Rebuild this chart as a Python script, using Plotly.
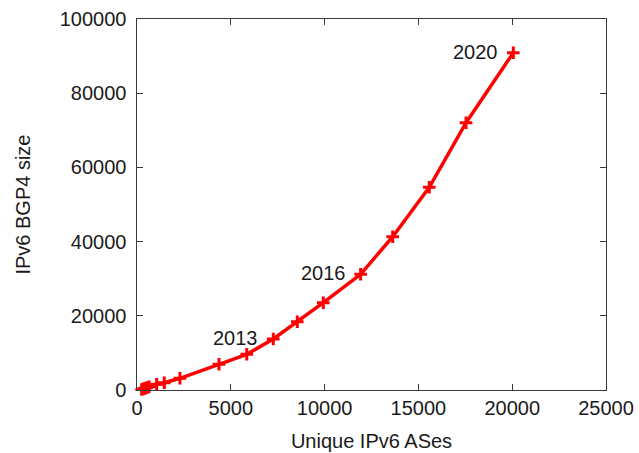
import plotly.graph_objects as go

# Yearly snapshots of the IPv6 routing table, 2003-2020
years = list(range(2003, 2021))
unique_ases = [250, 330, 420, 520, 640, 1050, 1455, 2290, 4370, 5850,
               7265, 8545, 9930, 11920, 13630, 15580, 17540, 20060]
bgp4_size = [150, 300, 450, 650, 850, 1530, 1970, 3150, 6930, 9620,
             13750, 18410, 23530, 31190, 41320, 54640, 72050, 90900]
labelled_years = [2013, 2016, 2020]

x_ticks = [0, 5000, 10000, 15000, 20000, 25000]
y_ticks = [0, 20000, 40000, 60000, 80000, 100000]

font = dict(family="Liberation Sans, Arial, sans-serif", size=20, color="#1a1a1a")

fig = go.Figure()
fig.add_trace(go.Scatter(
    x=unique_ases, y=bgp4_size, mode="lines+markers",
    line=dict(color="#ff0000", width=3.5),
    marker=dict(symbol="cross-thin", size=9, color="#ff0000",
                line=dict(color="#ff0000", width=3)),
    showlegend=False, cliponaxis=False,
))

for yr in labelled_years:
    i = years.index(yr)
    fig.add_annotation(x=unique_ases[i], y=bgp4_size[i], text=str(yr),
                       showarrow=False, xanchor="right", yanchor="middle",
                       xshift=-13, yshift=1, font=font)

# y-axis title placed as a rotated annotation so its position is fixed
fig.add_annotation(xref="paper", yref="paper", x=-0.245, y=0.5,
                   text="IPv6 BGP4 size", textangle=-90, showarrow=False,
                   xanchor="center", yanchor="middle", font=font)

axis_common = dict(
    showgrid=False, zeroline=False, showline=True, linecolor="#3a3a3a",
    linewidth=1, mirror="allticks", ticks="inside", ticklen=6,
    tickcolor="#3a3a3a", tickfont=font, automargin=False,
)

fig.update_xaxes(range=[0, 25000], tickvals=x_ticks,
                 ticktext=[str(v) for v in x_ticks],
                 title=dict(text="Unique IPv6 ASes", font=font),
                 **axis_common)
fig.update_yaxes(range=[0, 100000], tickvals=y_ticks,
                 ticktext=[f"{v}\u00a0" for v in y_ticks],
                 **axis_common)

fig.update_layout(
    width=639, height=453,
    margin=dict(l=137, r=33, t=19, b=63),
    plot_bgcolor="white", paper_bgcolor="white",
)

fig.write_html("out.html")
